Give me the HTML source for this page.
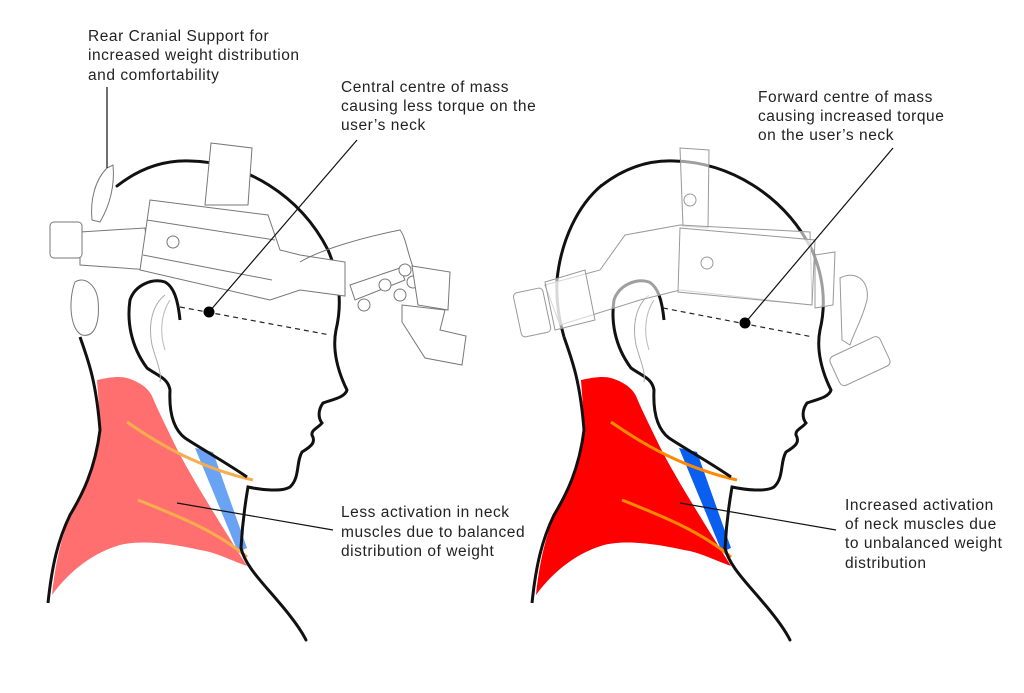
<!DOCTYPE html>
<html><head><meta charset="utf-8"><style>
html,body{margin:0;padding:0;background:#fff;width:1024px;height:693px;overflow:hidden}
text{font-family:"Liberation Sans",sans-serif;font-size:15.5px;letter-spacing:0.55px;fill:#222}
</style></head><body>
<svg width="1024" height="693" viewBox="0 0 1024 693" xmlns="http://www.w3.org/2000/svg">
<defs>
<g id="head">
  <path d="M117,186 C140,168 165,160 190,161 C245,162 300,195 328,250 C340,278 342,305 336,330 C332,350 338,372 347,390 C345,398 330,400 323,403 C318,410 318,418 322,423 C318,428 311,430 312,435 C316,442 312,446 302,452 C296,462 300,478 290,487 C282,492 262,490 248,487 C244,510 242,530 241,548 C245,565 260,580 277,600 C290,615 300,628 306,640" fill="none" stroke="#111" stroke-width="3" stroke-linecap="round"/>
  <path d="M80,337 C88,360 96,380 100,430 C95,470 82,495 70,515 C58,540 52,565 48,603" fill="none" stroke="#111" stroke-width="3"/>
  <path d="M180,320 C178,300 174,287 165,282 C152,278 135,285 130,300 C127,320 130,345 147,368 C158,376 168,378 170,390 C169,410 172,428 185,438 C200,448 225,462 247,477" fill="none" stroke="#111" stroke-width="3"/>
  <path d="M165,295 C152,305 148,325 152,345 C156,360 162,372 160,382" fill="none" stroke="#aaa" stroke-width="1"/>
  <path d="M170,300 C160,315 160,335 165,350" fill="none" stroke="#bbb" stroke-width="1"/>
</g>
</defs>

<!-- LEFT -->
<path d="M97,380 C110,377 120,376 127,378 C140,382 148,388 152,396 C160,415 168,430 175,445 C190,475 215,515 247,566 C230,560 215,552 200,550 C170,543 140,540 120,545 C95,552 70,570 52,595 C55,565 62,530 75,508 C90,480 100,450 100,430 C100,415 98,395 97,380 Z" fill="#ff6f6f"/>
<polygon points="195,448 213,452 247,548 238,552" fill="#6aa3f4"/>
<path d="M127,422 C160,445 200,468 253,480" fill="none" stroke="#f5ad4e" stroke-width="3"/>
<path d="M138,500 C175,515 215,530 247,557" fill="none" stroke="#f5ad4e" stroke-width="3"/>
<use href="#head"/>
<!-- left headset -->
<g fill="#fff" stroke="#777" stroke-width="1">
  <path d="M107,168 C95,180 90,200 92,220 L100,222 C110,205 115,185 113,165 Z"/>
  <path d="M75,282 C68,300 70,330 82,335 C95,338 100,322 98,300 C96,285 85,276 75,282 Z"/>
  <path d="M80,232 L145,228 L150,270 L80,265 Z"/>
  <rect x="50" y="222" width="32" height="36" rx="4"/>
  <path d="M211,143 L252,148 L248,205 L205,205 Z"/>
  <path d="M150,200 L268,215 L280,250 L300,255 L345,262 L345,296 L300,290 L270,300 L140,270 Z"/>
  <path d="M147,220 L275,240 M143,255 L272,280" fill="none"/>
  <ellipse cx="173" cy="242" rx="6" ry="6"/>
  <path d="M300,262 C320,250 360,238 400,230 C408,240 408,265 420,278" fill="none"/>
  <path d="M350,285 L400,268 L405,280 L355,300 Z"/>
  <circle cx="364" cy="305" r="6"/><circle cx="385" cy="285" r="6"/><circle cx="400" cy="295" r="6"/><circle cx="405" cy="270" r="6"/><circle cx="413" cy="282" r="6"/>
  <path d="M412,266 L450,272 L448,310 L418,305 Z"/>
  <path d="M402,305 L445,310 L440,330 L466,336 L462,365 L425,358 L402,322 Z"/>
</g>
<line x1="107" y1="87" x2="107" y2="168" stroke="#111" stroke-width="1.2"/>
<line x1="209" y1="312" x2="357" y2="140" stroke="#111" stroke-width="1.2"/>
<line x1="180" y1="307" x2="330" y2="335" stroke="#222" stroke-width="1.2" stroke-dasharray="5,4"/>
<circle cx="209" cy="312" r="5.5" fill="#000"/>
<line x1="177" y1="503" x2="333" y2="530" stroke="#111" stroke-width="1.2"/>

<!-- RIGHT -->
<g transform="translate(484,0)">
<path d="M97,380 C110,377 120,376 127,378 C140,382 148,388 152,396 C160,415 168,430 175,445 C190,475 215,515 247,566 C230,560 215,552 200,550 C170,543 140,540 120,545 C95,552 70,570 52,595 C55,565 62,530 75,508 C90,480 100,450 100,430 C100,415 98,395 97,380 Z" fill="#ff0000"/>
<polygon points="195,448 213,452 247,548 238,552" fill="#0a5ef0"/>
<path d="M127,422 C160,445 200,468 253,480" fill="none" stroke="#ff8a00" stroke-width="3"/>
<path d="M138,500 C175,515 215,530 247,557" fill="none" stroke="#ff8a00" stroke-width="3"/>
<use href="#head"/>
</g>
<path d="M602,185 C578,205 561,240 557,280 C556,300 559,320 564,337" fill="none" stroke="#111" stroke-width="3"/>
<g fill="#fff" fill-opacity="0.6" stroke="#999" stroke-width="1">
  <path d="M680,148 L709,150 L708,228 L683,226 Z"/>
  <circle cx="690" cy="200" r="6"/>
  <path d="M625,235 L680,225 L810,232 L812,305 L680,290 L640,300 L560,325 L545,285 L600,270 Z"/>
  <path d="M680,228 L815,240 L812,305 L678,292 Z"/>
  <circle cx="707" cy="263" r="6"/>
  <path d="M545,282 L585,270 L595,320 L555,330 Z"/>
  <rect x="517" y="290" width="30" height="45" rx="4" transform="rotate(-12 532 312)"/>
  <path d="M815,255 L835,252 L833,305 L815,308 Z"/>
  <path d="M840,278 C855,270 870,280 867,300 C862,320 855,330 850,345 L842,340 Z"/>
  <rect x="832" y="345" width="55" height="32" rx="5" transform="rotate(-25 860 360)"/>
</g>
<line x1="745" y1="323" x2="893" y2="148" stroke="#111" stroke-width="1.2"/>
<line x1="663" y1="308" x2="813" y2="337" stroke="#222" stroke-width="1.2" stroke-dasharray="5,4"/>
<circle cx="745" cy="323" r="5.5" fill="#000"/>
<line x1="680" y1="503" x2="836" y2="530" stroke="#111" stroke-width="1.2"/>

<!-- labels -->
<text x="88" y="41">Rear Cranial Support for</text>
<text x="88" y="60">increased weight distribution</text>
<text x="88" y="80">and comfortability</text>
<text x="341" y="92">Central centre of mass</text>
<text x="341" y="111">causing less torque on the</text>
<text x="341" y="130">user’s neck</text>
<text x="758" y="102">Forward centre of mass</text>
<text x="758" y="121">causing increased torque</text>
<text x="758" y="140">on the user’s neck</text>
<text x="341" y="517">Less activation in neck</text>
<text x="341" y="537">muscles due to balanced</text>
<text x="341" y="556">distribution of weight</text>
<text x="845" y="510">Increased activation</text>
<text x="845" y="529">of neck muscles due</text>
<text x="845" y="548">to unbalanced weight</text>
<text x="845" y="568">distribution</text>
</svg>
</body></html>
